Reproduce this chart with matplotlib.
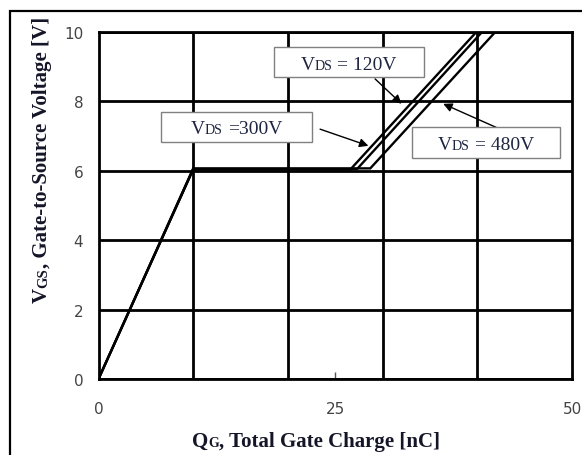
import matplotlib
matplotlib.use("Agg")
import matplotlib.pyplot as plt
from matplotlib.patches import Rectangle
from matplotlib.transforms import IdentityTransform

SERIF = "Liberation Serif"

# gate charge curves: shared rise to the Miller plateau, then the second slope
q_rise = [0, 10]
v_rise = [0, 6.05]
vds_labels = ["120V", "300V", "480V"]
plateau_v = [6.04, 6.05, 6.07]
plateau_end_q = [26.6, 27.3, 28.7]
top_q = [39.9, 40.5, 41.9]
top_v = 10

# callout boxes (centre, width, height in data units) and arrows
box_centers = [(26.4, 9.13), (14.55, 7.27), (40.9, 6.81)]
box_sizes = [(15.84, 0.86), (15.9, 0.86), (15.68, 0.91)]
box_texts = [" = 120V", " =300V", " = 480V"]
arrow_tails = [(29.2, 8.65), (23.4, 7.20), (42.0, 7.25)]
arrow_heads = [(32.0, 7.93), (28.5, 6.72), (36.4, 7.93)]

x_ticks = [0, 25, 50]
x_grid = [10, 20, 30, 40]
y_ticks = [0, 2, 4, 6, 8, 10]

W, H = 582, 456
fig = plt.figure(figsize=(W / 100, H / 100), dpi=100)
ax = fig.add_axes([98.5 / W, 76 / H, 473.5 / W, 347 / H])

for i in range(3):
    q = q_rise + [plateau_end_q[i], top_q[i]]
    v = [v_rise[0], plateau_v[i], plateau_v[i], top_v]
    ax.plot(q, v, color="black", lw=1.7, solid_joinstyle="miter", zorder=3)

ax.set_xlim(0, 50)
ax.set_ylim(0, 10)
ax.set_xticks(x_ticks)
ax.set_xticks(x_grid, minor=True)
ax.set_yticks(y_ticks)
ax.xaxis.grid(True, which="minor", color="black", lw=2.0)
ax.yaxis.grid(True, which="major", color="black", lw=2.0)
ax.tick_params(axis="x", which="major", direction="in", length=5, width=1,
               color="#555555", pad=16, labelsize=11, labelcolor="#444444")
ax.tick_params(axis="x", which="minor", length=0)
ax.tick_params(axis="y", length=0, pad=11, labelsize=11, labelcolor="#444444")
for s in ax.spines.values():
    s.set_linewidth(2.0)
    s.set_zorder(4)

# arrows pointing from the callouts to the curves
for tail, head in zip(arrow_tails, arrow_heads):
    ax.annotate("", xy=head, xytext=tail,
                arrowprops=dict(arrowstyle="-|>", color="black", lw=1.0,
                                mutation_scale=13, shrinkA=0, shrinkB=0),
                zorder=5)

fig.canvas.draw()
renderer = fig.canvas.get_renderer()


def advance(s, size, weight):
    # width of a run including spaces, measured between two bars
    kw = dict(fontsize=size, fontweight=weight, family=SERIF)
    a = fig.text(0, 0, "|" + s + "|", **kw)
    b = fig.text(0, 0, "||", **kw)
    w = a.get_window_extent(renderer).width - b.get_window_extent(renderer).width
    a.remove()
    b.remove()
    return w


def draw_runs(cx, cy, runs, weight="normal", color="black", rotation=0, zorder=6):
    # runs of (text, size) sharing one baseline, centred on (cx, cy) in pixels
    parts = []
    for s, size in runs:
        lead = len(s) - len(s.lstrip())
        gap = advance(" " * lead, size, weight) if lead else 0
        parts.append((s.lstrip(), size, gap, advance(s.lstrip(), size, weight)))
    total = sum(p[2] + p[3] for p in parts)
    pos = -total / 2
    for s, size, gap, w in parts:
        pos += gap
        if rotation == 90:
            x, y = cx, cy + pos
        else:
            x, y = cx + pos, cy
        fig.text(x, y, s, fontsize=size, fontweight=weight, family=SERIF,
                 color=color, rotation=rotation, rotation_mode="anchor",
                 ha="left", va="baseline", transform=IdentityTransform(),
                 zorder=zorder)
        pos += w


# callout boxes
for (cx, cy), (bw, bh), txt in zip(box_centers, box_sizes, box_texts):
    ax.add_patch(Rectangle((cx - bw / 2, cy - bh / 2), bw, bh, facecolor="white",
                           edgecolor="#808080", lw=1.0, zorder=6))
    px, py = ax.transData.transform((cx, cy))
    size = 14
    cap = 0.66 * size * 100 / 72
    draw_runs(px, py - cap / 2, [("V", size), ("DS", size * 0.72), (txt, size)],
              color="#1e2540", zorder=7)

# axis titles with small-cap subscripts
draw_runs(316, H - 447, [("Q", 15), ("G", 10), (", Total Gate Charge [nC]", 15)],
          weight="bold", color="#151528")
draw_runs(47, H - 160, [("V", 15), ("GS", 10.5), (", Gate-to-Source Voltage [V]", 15)],
          weight="bold", color="#151528", rotation=90)

# outer frame, open on the right and bottom
fig.add_artist(Rectangle((10 / W, -0.2), 1.5, 1.2 - 12 / H, transform=fig.transFigure,
                         fill=False, edgecolor="black", lw=1.6))

fig.savefig("out.png", dpi=100)
